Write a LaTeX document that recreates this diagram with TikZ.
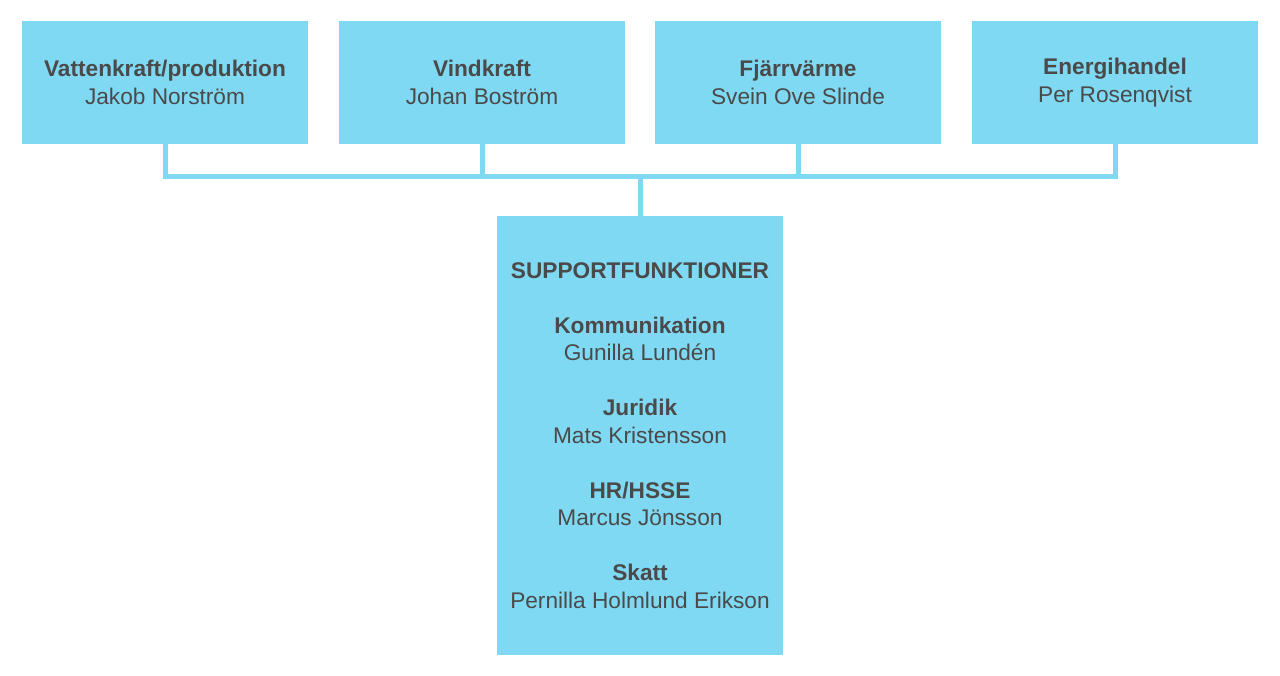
\documentclass[tikz,border=0pt]{standalone}
\usepackage{fontspec}
\setmainfont{Liberation Sans}
\definecolor{boxblue}{HTML}{80D9F3}
\definecolor{txtgray}{HTML}{4A4A4A}
\tikzset{
  unit/.style={fill=boxblue, draw=none, minimum width=286*0.75pt, minimum height=123*0.75pt,
    align=center, text=txtgray, inner sep=0pt, font=\fontsize{17}{20.6}\selectfont},
  link/.style={draw=boxblue, line width=3.75pt}
}
\begin{document}
\begin{tikzpicture}[x=0.75pt,y=-0.75pt]
  \useasboundingbox (0,0) rectangle (1280,675);
  \node[unit] (vk) at (165,82.5) {\textbf{Vattenkraft/produktion}\\Jakob Norström};
  \node[unit] (vind) at (482,82.5) {\textbf{Vindkraft}\\Johan Boström};
  \node[unit] (fjv) at (798,82.5) {\textbf{Fjärrvärme}\\Svein Ove Slinde};
  \node[unit] (eh) at (1115,82.5) {\textbf{Energihandel}\\Per Rosenqvist};
  \node[unit, minimum height=439*0.75pt] (supp) at (640,435.5)
    {\textbf{SUPPORTFUNKTIONER}\\[20.6pt]
     \textbf{Kommunikation}\\Gunilla Lundén\\[20.6pt]
     \textbf{Juridik}\\Mats Kristensson\\[20.6pt]
     \textbf{HR/HSSE}\\Marcus Jönsson\\[20.6pt]
     \textbf{Skatt}\\Pernilla Holmlund Erikson};
  \coordinate (bus) at (640,176);
  \draw[link] (vk.south) -- (vk.south |- bus) -- (eh.south |- bus) -- (eh.south);
  \draw[link] (vind.south) -- (vind.south |- bus);
  \draw[link] (fjv.south) -- (fjv.south |- bus);
  \draw[link] (bus) -- (supp.north);
\end{tikzpicture}
\end{document}
